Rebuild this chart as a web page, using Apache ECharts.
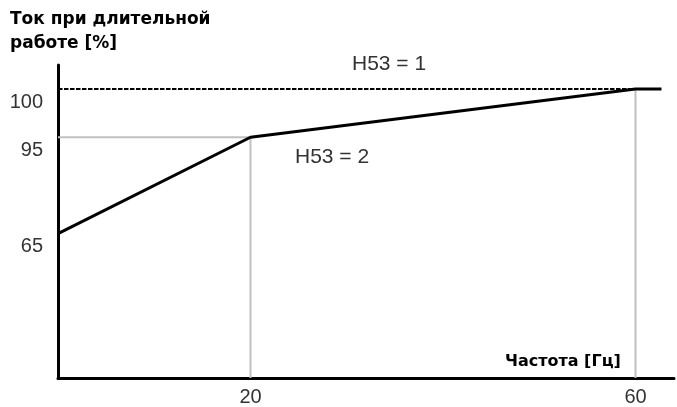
<!DOCTYPE html>
<html>
<head>
<meta charset="utf-8">
<script src="https://cdn.jsdelivr.net/npm/echarts@6/dist/echarts.min.js"></script>
<style>
  html, body { margin: 0; padding: 0; background: #fff; }
  #chart { width: 677px; height: 407px; }
</style>
</head>
<body>
<div id="chart"></div>
<script>
// Schematic current levels: the vertical scale is ordinal, blank half-steps
// space the labelled levels 65 / 95 / 100 apart and leave headroom on top.
const yLevels = ['', '', '', '', '', '', '65', '', '', '', '95', '', '100', ''];
const xTickLabels = [20, 60];

// H53 = 2 : derated current vs. frequency
const curveH53_2 = [[0, '65'], [20, '95'], [60, '100'], [62.7, '100']];
// H53 = 1 : constant 100 %
const curveH53_1 = [[0, '100'], [60, '100']];
// Grey guide lines
const guide95 = [[0, '95'], [20, '95']];
const guide20 = [[20, 0], [20, '95']];
const guide60 = [[60, 0], [60, '100']];

const labelFont = '"Liberation Sans", Arial, sans-serif';
const boldFont = '"DejaVu Sans", Verdana, sans-serif';

const chart = echarts.init(document.getElementById('chart'));

function guide(data) {
  return {
    type: 'line', data, symbol: 'none', silent: true, z: 1,
    lineStyle: { color: '#c0c0c0', width: 2 }
  };
}

function text(x, y, str, font, fill) {
  return {
    type: 'text', x, y,
    style: { text: str, fill, font, textVerticalAlign: 'middle' }
  };
}

chart.setOption({
  animation: false,
  backgroundColor: '#ffffff',
  grid: { left: 58, right: 0, top: 65, bottom: 27, containLabel: false },
  xAxis: {
    type: 'value', min: 0, max: 64, interval: 20,
    axisLine: { show: true, onZero: false, lineStyle: { color: '#000', width: 3 } },
    axisTick: { show: false },
    splitLine: { show: false },
    axisLabel: {
      margin: 9, color: '#333', fontSize: 20, fontFamily: labelFont,
      formatter: v => xTickLabels.includes(v) ? String(v) : ''
    }
  },
  yAxis: {
    type: 'category', data: yLevels, boundaryGap: false,
    axisLine: { show: true, onZero: false, lineStyle: { color: '#000', width: 3 } },
    axisTick: { show: false },
    splitLine: { show: false },
    axisLabel: {
      margin: 15, color: '#333', fontSize: 20, fontFamily: labelFont,
      verticalAlign: 'top', padding: [3, 0, 0, 0], interval: 0
    }
  },
  series: [
    guide(guide95),
    guide(guide20),
    guide(guide60),
    {
      type: 'line', data: curveH53_1, symbol: 'none', z: 3,
      lineStyle: { color: '#000', width: 2, type: [4.5, 1.5] }
    },
    {
      type: 'line', data: curveH53_2, symbol: 'none', z: 4,
      lineStyle: { color: '#000', width: 3, join: 'round' }
    }
  ],
  graphic: [
    text(10, 19.5, 'Ток при длительной', 'bold 17px ' + boldFont, '#000'),
    text(10, 43.5, 'работе [%]', 'bold 17px ' + boldFont, '#000'),
    text(505, 361.5, 'Частота [Гц]', 'bold 16px ' + boldFont, '#000'),
    text(352, 64.5, 'H53 = 1', '21px ' + labelFont, '#333'),
    text(295, 157.5, 'H53 = 2', '21px ' + labelFont, '#333')
  ]
});
</script>
</body>
</html>
